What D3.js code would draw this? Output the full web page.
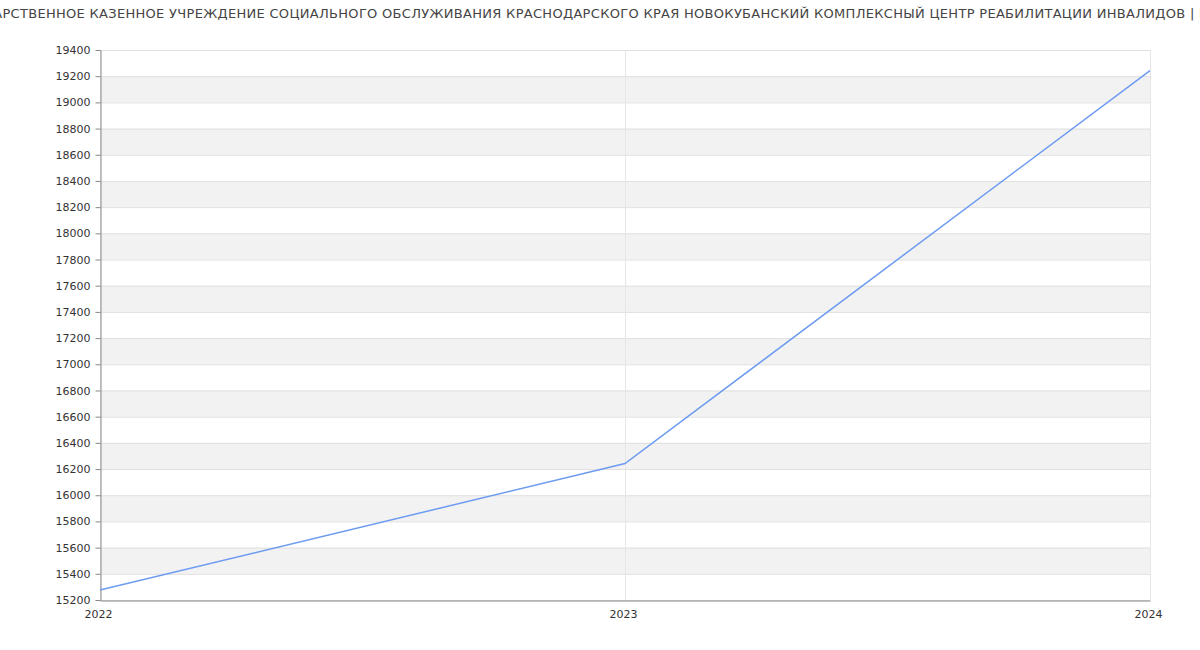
<!DOCTYPE html>
<html><head><meta charset="utf-8">
<script src="https://cdn.jsdelivr.net/npm/d3@7"></script>
<style>body{margin:0;background:#fff}svg{display:block}</style>
</head><body>
<svg id="c" width="1200" height="650"></svg>
<script>
const titleText = "ГОСУДАРСТВЕННОЕ КАЗЕННОЕ УЧРЕЖДЕНИЕ СОЦИАЛЬНОГО ОБСЛУЖИВАНИЯ КРАСНОДАРСКОГО КРАЯ НОВОКУБАНСКИЙ КОМПЛЕКСНЫЙ ЦЕНТР РЕАБИЛИТАЦИИ ИНВАЛИДОВ | Выручка";
const years = ["2022", "2023", "2024"];
const values = [15276, 16242, 19243];
const yTicks = d3.range(15200, 19401, 200);

const svg = d3.select("#c");
const m = {l:100, r:1150, t:50, b:600};
const x = d3.scalePoint().domain(years).range([m.l, m.r]);
const y = d3.scaleLinear().domain([15200, 19400]).range([m.b, m.t]);

// bands
const bands = yTicks.filter(v => v < 19400 && ((v - 15400) % 400 === 0));
svg.append("g").selectAll("rect").data(bands).join("rect")
  .attr("x", m.l).attr("width", m.r - m.l)
  .attr("y", d => y(d + 200)).attr("height", d => y(d) - y(d + 200))
  .attr("fill", "#f2f2f2");

// horizontal grid
svg.append("g").selectAll("line").data(yTicks).join("line")
  .attr("x1", m.l).attr("x2", m.r)
  .attr("y1", d => y(d) + 0.5).attr("y2", d => y(d) + 0.5)
  .attr("stroke", "#e0e0e0");
// vertical grid
svg.append("g").selectAll("line").data(years).join("line")
  .attr("x1", d => x(d) + 0.5).attr("x2", d => x(d) + 0.5)
  .attr("y1", m.t).attr("y2", m.b)
  .attr("stroke", "#e6e6e6");

// axes
const yAxis = svg.append("g").attr("transform", `translate(${m.l + 0.5},0)`)
  .call(d3.axisLeft(y).tickValues(yTicks).tickFormat(d3.format("d")).tickSize(5).tickSizeOuter(0));
const xAxis = svg.append("g").attr("transform", `translate(0,${m.b + 0.5})`)
  .call(d3.axisBottom(x).tickSize(0).tickPadding(10));
[yAxis, xAxis].forEach(a => {
  a.select(".domain").attr("stroke", "#888");
  a.selectAll(".tick line").attr("stroke", "#888");
  a.selectAll("text").attr("fill", "#333").style("font", "11px 'DejaVu Sans'");
});
xAxis.selectAll(".tick text").attr("dy", "0.71em").attr("x", -2);
yAxis.selectAll(".tick text").attr("x", -10);

// line
svg.append("path").datum(values)
  .attr("fill", "none").attr("stroke", "#6d9bf1").attr("stroke-width", 1.5)
  .attr("d", d3.line().x((d, i) => x(years[i])).y(d => y(d)));

// title: position so that the separator sits where the reference shows it
const t = svg.append("text").attr("y", 18)
  .attr("fill", "#444").style("font", "13px 'DejaVu Sans'").style("letter-spacing", "0.3px")
  .text(titleText);
const sep = titleText.indexOf("|");
const off = t.node().getSubStringLength(0, sep);
t.attr("x", 1190 - off);
</script>
</body></html>
